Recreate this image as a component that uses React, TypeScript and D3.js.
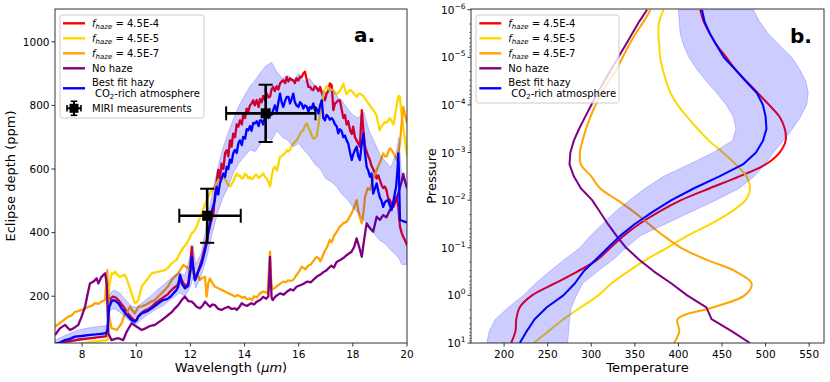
import React from 'react';
import * as d3 from 'd3';

// ---------- Panel a: eclipse depth spectra (wavelength µm, ppm) ----------
const fhaze4: [number, number][] = [
  [7.0,48],[7.3,55],[7.6,60],[7.9,64],[8.2,67],[8.5,70],[8.7,72],[8.88,74],[8.94,90],[9.0,180],[9.08,195],[9.15,199],[9.25,195],[9.34,188],[9.46,175],[9.55,165],[9.65,150],[9.75,140],[9.83,132],[9.92,125],[10.0,124],[10.08,138],[10.2,148],[10.32,155],[10.45,160],[10.57,167],[10.7,178],[10.82,185],[10.95,193],[11.06,200],[11.15,205],[11.25,215],[11.37,225],[11.49,232],[11.55,240],[11.62,265],[11.68,251],[11.8,232],[11.92,240],[12.0,300],[12.05,356],[12.1,300],[12.17,251],[12.29,280],[12.42,314],[12.54,356],[12.66,398],[12.78,440],[12.85,460],
  [12.91,520],[12.97,560],[13.03,597],[13.09,570],[13.15,617],[13.22,600],[13.28,650],[13.34,659],[13.4,640],[13.46,690],[13.52,670],[13.58,711],[13.65,700],[13.71,740],[13.77,733],[13.83,753],[13.9,740],[13.95,770],[14.02,760],[14.08,790],[14.14,780],[14.2,800],[14.26,806],[14.32,816],[14.38,800],[14.45,817],[14.52,795],[14.57,820],[14.63,810],[14.69,830],[14.76,815],[14.82,837],[14.88,825],[14.94,827],[15.0,850],[15.06,858],[15.12,845],[15.19,860],[15.25,850],[15.31,869],[15.37,875],[15.43,879],[15.5,870],[15.56,889],[15.62,875],[15.68,885],[15.74,880],[15.8,879],[15.86,870],[15.92,885],[15.99,878],[16.05,890],[16.11,889],[16.17,900],[16.23,906],[16.3,880],[16.36,858],[16.42,858],[16.48,850],[16.54,848],[16.6,860],[16.66,855],[16.73,845],[16.79,858],[16.85,840],[16.91,825],[16.97,816],[17.03,837],[17.09,845],[17.15,869],[17.22,863],[17.28,785],[17.34,806],[17.4,810],[17.46,816],[17.52,816],[17.58,790],[17.65,760],[17.71,770],[17.77,740],[17.83,750],[17.9,720],[17.96,710],[18.01,733],[18.08,700],[18.14,690],[18.2,680],[18.26,670],[18.33,785],[18.39,720],[18.45,670],[18.51,655],[18.57,640],[18.63,628],[18.69,610],[18.75,600],[18.82,586],[18.88,570],[18.94,580],[19.0,565],[19.06,550],[19.12,540],[19.18,545],[19.24,534],[19.3,510],[19.37,502],[19.43,490],[19.5,481],[19.56,500],[19.62,513],[19.68,480],[19.74,419],[19.8,400],[19.86,387],[19.93,375],[20.0,360]
];

const fhaze5: [number, number][] = [
  [7.0,40],[7.3,43],[7.6,47],[7.9,50],[8.2,54],[8.5,58],[8.7,60],[8.9,62],[8.96,64],[9.0,230],[9.09,272],[9.15,270],[9.22,277],[9.3,268],[9.4,261],[9.5,265],[9.58,267],[9.65,255],[9.71,240],[9.77,225],[9.83,209],[9.9,190],[9.95,178],[10.02,182],[10.08,188],[10.14,210],[10.2,230],[10.3,242],[10.39,251],[10.48,262],[10.57,272],[10.7,275],[10.82,277],[10.94,280],[11.06,282],[11.18,290],[11.31,303],[11.4,310],[11.49,314],[11.58,330],[11.68,345],[11.75,355],[11.8,358],[11.92,375],[12.05,398],[12.15,405],[12.23,419],[12.32,440],[12.42,460],[12.5,480],[12.6,502],[12.7,520],[12.78,534],[12.9,545],[13.03,565],[13.1,560],[13.15,568],[13.22,576],[13.3,565],[13.34,560],[13.4,550],[13.46,545],[13.52,552],[13.58,560],[13.65,575],[13.71,586],[13.77,578],[13.83,580],[13.9,570],[13.95,572],[14.02,585],[14.08,580],[14.14,570],[14.2,576],[14.26,568],[14.32,570],[14.38,580],[14.45,582],[14.52,572],[14.57,575],[14.63,580],[14.69,586],[14.76,575],[14.82,570],[14.88,560],[14.94,545],[15.0,575],[15.06,600],[15.12,607],[15.2,595],[15.25,615],[15.31,638],[15.37,640],[15.43,645],[15.5,650],[15.56,659],[15.62,655],[15.68,660],[15.74,672],[15.8,680],[15.86,685],[15.92,690],[15.99,700],[16.05,711],[16.11,718],[16.17,722],[16.23,735],[16.3,743],[16.36,730],[16.42,720],[16.48,705],[16.54,695],[16.6,698],[16.66,701],[16.73,740],[16.79,774],[16.85,790],[16.91,837],[16.97,850],[17.03,860],[17.09,855],[17.15,845],[17.22,850],[17.28,848],[17.34,840],[17.4,835],[17.46,840],[17.52,845],[17.58,855],[17.65,868],[17.71,850],[17.77,835],[17.83,842],[17.9,848],[17.96,845],[18.01,840],[18.08,832],[18.14,827],[18.2,835],[18.26,837],[18.33,833],[18.38,830],[18.45,822],[18.5,815],[18.56,808],[18.62,800],[18.69,792],[18.75,785],[18.81,778],[18.87,770],[18.93,745],[18.99,722],[19.06,735],[19.12,740],[19.18,748],[19.24,745],[19.3,752],[19.37,760],[19.43,750],[19.5,740],[19.55,765],[19.6,790],[19.65,815],[19.7,830],[19.74,827],[19.8,770],[19.86,733],[19.93,690],[20.0,640]
];

const fhaze7: [number, number][] = [
  [7.0,104],[7.12,112],[7.25,120],[7.37,128],[7.49,136],[7.62,140],[7.74,151],[7.86,153],[7.98,157],[8.1,160],[8.23,167],[8.35,170],[8.48,178],[8.6,176],[8.72,183],[8.85,188],[8.9,250],[8.93,282],[8.97,200],[9.0,136],[9.09,99],[9.18,97],[9.28,94],[9.37,104],[9.46,115],[9.52,130],[9.58,146],[9.67,150],[9.77,167],[9.86,155],[9.95,146],[10.08,167],[10.2,168],[10.32,172],[10.45,178],[10.57,184],[10.69,188],[10.82,200],[10.94,210],[11.06,220],[11.18,232],[11.31,251],[11.43,262],[11.55,272],[11.62,282],[11.74,298],[11.85,292],[11.92,288],[12.05,282],[12.17,261],[12.28,265],[12.35,251],[12.45,258],[12.54,261],[12.6,199],[12.66,240],[12.72,256],[12.82,240],[12.91,230],[13.03,225],[13.15,220],[13.28,215],[13.4,209],[13.52,205],[13.65,199],[13.75,204],[13.83,200],[13.92,195],[14.0,198],[14.1,190],[14.2,193],[14.28,188],[14.35,200],[14.45,196],[14.57,209],[14.7,215],[14.85,210],[14.91,290],[14.94,340],[14.97,270],[15.01,222],[15.1,225],[15.2,232],[15.3,238],[15.43,246],[15.52,244],[15.6,250],[15.7,248],[15.8,251],[15.88,262],[15.95,270],[16.03,280],[16.11,293],[16.2,288],[16.25,285],[16.35,296],[16.45,300],[16.55,312],[16.66,324],[16.75,318],[16.8,310],[16.88,325],[16.95,340],[17.05,355],[17.15,377],[17.22,370],[17.3,390],[17.4,402],[17.52,419],[17.6,425],[17.65,430],[17.77,434],[17.85,445],[17.95,460],[18.05,480],[18.14,502],[18.2,470],[18.25,450],[18.33,429],[18.4,470],[18.45,513],[18.55,540],[18.63,534],[18.7,555],[18.75,570],[18.82,585],[18.88,597],[18.94,610],[19.0,620],[19.06,635],[19.12,649],[19.18,640],[19.25,640],[19.31,655],[19.37,665],[19.43,660],[19.5,650],[19.56,640],[19.62,628],[19.68,650],[19.74,681],[19.8,740],[19.86,795],[19.93,770],[20.0,743]
];

const noHaze: [number, number][] = [
  [7.0,78],[7.18,99],[7.37,110],[7.55,94],[7.68,99],[7.86,110],[7.98,135],[8.11,167],[8.2,205],[8.29,240],[8.42,246],[8.54,256],[8.6,240],[8.72,261],[8.85,272],[8.91,240],[8.97,83],[9.09,62],[9.22,66],[9.34,68],[9.52,62],[9.65,89],[9.83,115],[10.02,104],[10.2,94],[10.32,98],[10.45,104],[10.57,108],[10.69,110],[10.82,118],[10.94,125],[11.06,133],[11.18,141],[11.31,150],[11.43,162],[11.55,172],[11.68,188],[11.8,199],[11.92,185],[12.05,183],[12.15,175],[12.23,167],[12.35,162],[12.45,170],[12.54,183],[12.63,175],[12.72,167],[12.82,174],[12.91,172],[13.03,160],[13.15,157],[13.28,163],[13.4,167],[13.52,160],[13.65,162],[13.71,157],[13.8,165],[13.9,178],[14.0,172],[14.1,170],[14.25,178],[14.35,174],[14.45,183],[14.6,190],[14.69,198],[14.8,192],[14.88,200],[14.92,280],[14.94,324],[14.97,250],[15.0,195],[15.04,188],[15.15,200],[15.31,209],[15.45,205],[15.56,214],[15.7,222],[15.8,218],[15.92,230],[16.1,236],[16.2,240],[16.3,246],[16.45,244],[16.55,252],[16.66,261],[16.8,268],[16.9,275],[17.03,282],[17.2,296],[17.3,290],[17.4,308],[17.55,315],[17.65,320],[17.77,329],[17.87,335],[17.95,340],[18.05,355],[18.14,382],[18.25,350],[18.33,324],[18.42,380],[18.51,429],[18.62,415],[18.75,403],[18.88,450],[19.0,440],[19.12,455],[19.24,448],[19.37,471],[19.5,485],[19.6,502],[19.7,530],[19.8,560],[19.86,585],[19.93,560],[20.0,540]
];

const bestFit: [number, number][] = [
  [7.0,50],[7.2,55],[7.37,62],[7.55,66],[7.74,73],[7.98,75],[8.23,78],[8.5,80],[8.7,82],[8.88,84],[8.94,95],[9.0,165],[9.08,182],[9.15,188],[9.25,184],[9.34,178],[9.46,162],[9.55,152],[9.65,141],[9.75,132],[9.83,125],[9.95,120],[10.02,126],[10.08,136],[10.2,146],[10.32,150],[10.39,152],[10.5,158],[10.57,162],[10.7,170],[10.82,178],[10.92,184],[11.0,188],[11.1,190],[11.18,193],[11.28,200],[11.37,209],[11.49,220],[11.55,230],[11.62,267],[11.68,240],[11.8,225],[11.92,232],[12.0,280],[12.05,324],[12.1,290],[12.17,251],[12.29,277],[12.42,303],[12.5,330],[12.6,366],[12.66,400],[12.72,429],[12.8,470],[12.9,502],[12.97,544],[13.03,520],[13.09,555],[13.15,570],[13.22,586],[13.28,575],[13.34,607],[13.4,600],[13.46,630],[13.52,620],[13.58,649],[13.65,660],[13.71,650],[13.77,680],[13.83,690],[13.9,675],[13.95,701],[14.02,695],[14.08,725],[14.14,722],[14.2,735],[14.26,720],[14.32,745],[14.38,743],[14.45,750],[14.52,735],[14.57,753],[14.63,753],[14.69,740],[14.76,765],[14.82,774],[14.88,760],[14.94,775],[15.0,770],[15.06,785],[15.12,800],[15.19,780],[15.25,810],[15.31,837],[15.37,810],[15.43,795],[15.5,815],[15.56,827],[15.62,827],[15.68,806],[15.74,820],[15.8,837],[15.86,810],[15.92,800],[15.99,795],[16.05,810],[16.11,805],[16.17,790],[16.23,800],[16.3,796],[16.36,780],[16.42,795],[16.48,790],[16.54,806],[16.6,785],[16.66,790],[16.73,774],[16.79,800],[16.85,816],[16.91,760],[16.97,753],[17.03,770],[17.09,765],[17.15,755],[17.22,760],[17.28,753],[17.34,740],[17.4,735],[17.46,712],[17.52,725],[17.58,720],[17.65,700],[17.71,705],[17.77,690],[17.83,680],[17.9,650],[17.96,628],[18.01,645],[18.08,660],[18.14,670],[18.2,640],[18.26,628],[18.33,680],[18.39,712],[18.45,650],[18.51,607],[18.57,595],[18.63,576],[18.69,586],[18.75,523],[18.82,540],[18.88,555],[18.94,530],[19.0,510],[19.06,500],[19.12,481],[19.18,495],[19.24,500],[19.3,502],[19.37,485],[19.43,471],[19.5,500],[19.55,523],[19.6,545],[19.65,600],[19.68,649],[19.7,600],[19.72,520],[19.74,440],[19.8,438],[19.86,436],[19.93,434],[20.0,432]
];

// [wavelength, lower, upper] of the shaded best-fit range
const bestFitRange: [number, number, number][] = [
  [7.0,45,62],[7.4,52,78],[7.8,60,92],[8.2,66,100],[8.6,70,105],[8.93,74,108],[9.0,150,200],[9.1,160,215],[9.2,160,220],[9.4,150,210],[9.6,135,190],[9.8,118,170],[10.0,112,165],[10.2,128,178],[10.4,140,192],[10.6,152,205],[10.8,162,222],[11.0,170,235],[11.2,185,250],[11.4,198,265],[11.6,210,275],[11.8,200,265],[12.0,230,330],[12.1,260,360],[12.2,225,300],[12.4,265,335],[12.6,320,425],[12.8,395,520],[13.0,460,600],[13.2,510,665],[13.4,545,715],[13.6,590,760],[13.8,620,800],[14.0,640,830],[14.2,660,860],[14.4,655,880],[14.6,680,905],[14.8,700,925],[15.0,690,935],[15.2,720,905],[15.4,700,885],[15.6,690,895],[15.8,670,880],[16.0,680,900],[16.2,660,875],[16.4,640,885],[16.6,615,862],[16.8,600,850],[17.0,570,840],[17.2,560,860],[17.4,545,830],[17.6,520,815],[17.8,505,790],[18.0,480,770],[18.2,460,760],[18.4,440,780],[18.6,420,720],[18.8,395,685],[19.0,375,645],[19.2,365,625],[19.4,345,605],[19.6,330,650],[19.7,320,700],[19.8,300,580],[20.0,300,560]
];

// MIRI measurements
const miriWl = [12.62, 14.78];
const miriWlLow = [11.59, 13.32];
const miriWlHigh = [13.86, 16.62];
const miriDepth = [453, 775];
const miriDepthErr = [85, 90];

const xTicksA = [8, 10, 12, 14, 16, 18, 20];
const yTicksA = [200, 400, 600, 800, 1000];

// ---------- Panel b: temperature-pressure profiles ----------
const pressureExp = [-6,-5.75,-5.5,-5.25,-5,-4.75,-4.5,-4.25,-4,-3.75,-3.5,-3.25,-3,-2.75,-2.5,-2.25,-2,-1.75,-1.5,-1.25,-1,-0.75,-0.5,-0.25,0,0.25,0.5,0.75,1];
const tHaze4 = [425,429,436,444,455,465,478,491,504,516,522,523,516,500,470,436,403,377,355,337,322,307,284,258,232,218,214,213,208];
const tHaze5 = [383,378,377,378,379,382,386,391,399,410,422,435,451,466,478,482,477,460,437,410,387,363,342,323,308,288,268,251,234];
const tHaze7 = [368,360,351,343,336,329,320,312,305,299,294,290,287,288,300,310,330,349,366,383,403,432,466,484,476,440,399,401,395];
const tNoHaze = [364,355,347,339,331,323,315,307,300,293,286,280,276,275,280,288,301,310,319,329,340,355,372,392,410,432,438,461,482];
const tBestFit = [427,430,436,444,452,465,477,490,497,500,501,497,489,474,447,418,392,370,350,333,319,305,291,281,268,249,235,226,218];
const tBestFitLow = [400,401,402,406,412,421,432,444,455,463,466,462,440,412,383,362,344,327,313,299,287,269,252,236,222,205,190,183,180];
const tBestFitHigh = [486,493,503,516,530,539,546,549,547,540,531,520,509,499,487,470,443,414,385,356,340,325,307,290,283,277,275,274,273];

const xTicksB = [200, 250, 300, 350, 400, 450, 500, 550];
const yTickExpB = [-6, -5, -4, -3, -2, -1, 0, 1];

const FONT = "'DejaVu Sans', Verdana, sans-serif";
const C = { red: '#ff0000', gold: '#ffd700', orange: '#ffa500', purple: '#800080', blue: '#0000ff' };

function HazeLabel({ x, y, val }: { x: number; y: number; val: string }) {
  return (
    <text x={x} y={y} fontSize={10} fontFamily={FONT} style={{ whiteSpace: 'pre' }}>
      <tspan fontStyle="italic">f</tspan>
      <tspan fontStyle="italic" fontSize={7} dy={2.2}>haze</tspan>
      <tspan dy={-2.2}>{' = ' + val}</tspan>
    </text>
  );
}

function Legend({ bx, by, bw, bh, lx, tx, miri }: { bx: number; by: number; bw: number; bh: number; lx: number; tx: number; miri: boolean }) {
  const rows = [
    { c: C.red, v: '4.5E-4', y: 23.3 },
    { c: C.gold, v: '4.5E-5', y: 38.3 },
    { c: C.orange, v: '4.5E-7', y: 53.3 },
  ];
  const ll = 22;
  return (
    <g>
      <rect x={bx} y={by} width={bw} height={bh} rx={2.5} fill="white" fillOpacity={0.8} stroke="#cccccc" strokeWidth={1} />
      {rows.map((r, i) => (
        <g key={i}>
          <line x1={lx} x2={lx + ll} y1={r.y} y2={r.y} stroke={r.c} strokeWidth={2.4} />
          <HazeLabel x={tx} y={r.y + 3.6} val={r.v} />
        </g>
      ))}
      <line x1={lx} x2={lx + ll} y1={68.3} y2={68.3} stroke={C.purple} strokeWidth={2.4} />
      <text x={tx} y={71.9} fontSize={10} fontFamily={FONT}>No haze</text>
      <line x1={lx} x2={lx + ll} y1={88.3} y2={88.3} stroke={C.blue} strokeWidth={2.4} />
      <text x={tx} y={85.9} fontSize={10} fontFamily={FONT}>Best fit hazy</text>
      <text x={tx + 3} y={96.9} fontSize={10} fontFamily={FONT}>
        <tspan>CO</tspan>
        <tspan fontSize={7} dy={2.2}>2</tspan>
        <tspan dy={-2.2}>-rich atmosphere</tspan>
      </text>
      {miri && (
        <g>
          <line x1={lx + 4} x2={lx + 18} y1={108.3} y2={108.3} stroke="black" strokeWidth={2} />
          <line x1={lx + 11} x2={lx + 11} y1={101.3} y2={115.3} stroke="black" strokeWidth={2} />
          <line x1={lx + 4} x2={lx + 4} y1={105} y2={111.6} stroke="black" strokeWidth={1.6} />
          <line x1={lx + 18} x2={lx + 18} y1={105} y2={111.6} stroke="black" strokeWidth={1.6} />
          <line x1={lx + 7.7} x2={lx + 14.3} y1={101.3} y2={101.3} stroke="black" strokeWidth={1.6} />
          <line x1={lx + 7.7} x2={lx + 14.3} y1={115.3} y2={115.3} stroke="black" strokeWidth={1.6} />
          <rect x={lx + 6.5} y={103.8} width={9} height={9} fill="black" />
          <text x={tx} y={111.9} fontSize={10} fontFamily={FONT}>MIRI measurements</text>
        </g>
      )}
    </g>
  );
}

export default function App() {
  // panel a geometry
  const A = { x0: 55, x1: 407, y0: 9, y1: 343 };
  const B = { x0: 471, x1: 824, y0: 9, y1: 343 };

  const xA = d3.scaleLinear().domain([7, 20]).range([A.x0, A.x1]);
  const yA = d3.scaleLinear().domain([53, 1103]).range([A.y1, A.y0]);
  const xB = d3.scaleLinear().domain([162, 567]).range([B.x0, B.x1]);
  const yB = d3.scaleLog().domain([1e-6, 10]).range([9.7, B.y1]);

  const lineA = d3.line<[number, number]>().x(d => xA(d[0])).y(d => yA(d[1]));
  const areaA = d3.area<[number, number, number]>().x(d => xA(d[0])).y0(d => yA(d[1])).y1(d => yA(d[2]));

  const prof = (t: number[]) => pressureExp.map((e, i) => [t[i], Math.pow(10, e)] as [number, number]);
  const lineBsmooth = d3.line<[number, number]>().x(d => xB(d[0])).y(d => yB(d[1])).curve(d3.curveCatmullRom.alpha(0.5));
  const lineBlin = d3.line<[number, number]>().x(d => xB(d[0])).y(d => yB(d[1]));
  const bandRows = pressureExp.map((e, i) => ({ p: Math.pow(10, e), lo: tBestFitLow[i], hi: tBestFitHigh[i] }));
  const areaB = d3.area<{ p: number; lo: number; hi: number }>().y(d => yB(d.p)).x0(d => xB(d.lo)).x1(d => xB(d.hi));

  const minorB: number[] = [];
  for (let e = -6; e < 1; e++) for (let k = 2; k <= 9; k++) minorB.push(k * Math.pow(10, e));

  const spine = '#333';
  const lwA = 2.3;
  const lwB = 2.0;

  return (
    <svg width={830} height={382} viewBox="0 0 830 382" style={{ position: 'absolute', left: 0, top: 0, background: 'white' }} fontFamily={FONT}>
      <defs>
        <clipPath id="clipA"><rect x={A.x0} y={A.y0} width={A.x1 - A.x0} height={A.y1 - A.y0} /></clipPath>
        <clipPath id="clipB"><rect x={B.x0} y={B.y0} width={B.x1 - B.x0} height={B.y1 - B.y0} /></clipPath>
      </defs>
      <rect x={0} y={0} width={830} height={382} fill="white" />

      {/* ---------- Panel a ---------- */}
      <g clipPath="url(#clipA)" fill="none" strokeLinejoin="round">
        <path d={lineA(fhaze4) || ''} stroke={C.red} strokeWidth={lwA} />
        <path d={lineA(fhaze5) || ''} stroke={C.gold} strokeWidth={lwA} />
        <path d={lineA(fhaze7) || ''} stroke={C.orange} strokeWidth={lwA} />
        <path d={lineA(noHaze) || ''} stroke={C.purple} strokeWidth={lwA} />
        <path d={areaA(bestFitRange) || ''} fill={C.blue} fillOpacity={0.2} stroke={C.blue} strokeOpacity={0.2} strokeWidth={1} />
        <path d={lineA(bestFit) || ''} stroke={C.blue} strokeWidth={lwA} />
      </g>
      {/* MIRI error bars */}
      <g stroke="black">
        {miriWl.map((w, i) => {
          const cx = xA(w), cy = yA(miriDepth[i]);
          const xl = xA(miriWlLow[i]), xh = xA(miriWlHigh[i]);
          const yt = yA(miriDepth[i] + miriDepthErr[i]), yb = yA(miriDepth[i] - miriDepthErr[i]);
          return (
            <g key={i}>
              <line x1={xl} x2={xh} y1={cy} y2={cy} strokeWidth={2.6} />
              <line x1={cx} x2={cx} y1={yt} y2={yb} strokeWidth={2.6} />
              <line x1={xl} x2={xl} y1={cy - 7} y2={cy + 7} strokeWidth={2} />
              <line x1={xh} x2={xh} y1={cy - 7} y2={cy + 7} strokeWidth={2} />
              <line x1={cx - 7} x2={cx + 7} y1={yt} y2={yt} strokeWidth={2} />
              <line x1={cx - 7} x2={cx + 7} y1={yb} y2={yb} strokeWidth={2} />
              <rect x={cx - 5} y={cy - 5} width={10} height={10} fill="black" stroke="none" />
            </g>
          );
        })}
      </g>
      {/* axes a */}
      <rect x={A.x0} y={A.y0} width={A.x1 - A.x0} height={A.y1 - A.y0} fill="none" stroke={spine} strokeWidth={1} />
      {xTicksA.map(t => (
        <g key={'xa' + t}>
          <line x1={xA(t)} x2={xA(t)} y1={A.y1} y2={A.y1 + 3.5} stroke={spine} strokeWidth={1} />
          <text x={xA(t)} y={358} fontSize={10.5} textAnchor="middle" fill="black">{t}</text>
        </g>
      ))}
      {yTicksA.map(t => (
        <g key={'ya' + t}>
          <line x1={A.x0 - 3.5} x2={A.x0} y1={yA(t)} y2={yA(t)} stroke={spine} strokeWidth={1} />
          <text x={A.x0 - 5.5} y={yA(t) + 3.8} fontSize={10.5} textAnchor="end" fill="black">{t}</text>
        </g>
      ))}
      <text x={(A.x0 + A.x1) / 2} y={372} fontSize={13} textAnchor="middle" fill="black">
        <tspan>Wavelength (</tspan><tspan fontStyle="italic">μm</tspan><tspan>)</tspan>
      </text>
      <text transform={`translate(15,${(A.y0 + A.y1) / 2}) rotate(-90)`} fontSize={13} textAnchor="middle" fill="black">Eclipse depth (ppm)</text>
      <text x={354} y={42} fontSize={20} fontWeight="bold" fill="black">a.</text>
      <Legend bx={60} by={15} bw={144} bh={103} lx={63} tx={92} miri={true} />

      {/* ---------- Panel b ---------- */}
      <g clipPath="url(#clipB)" fill="none" strokeLinejoin="round">
        <path d={lineBsmooth(prof(tHaze4)) || ''} stroke={C.red} strokeWidth={lwB} />
        <path d={lineBsmooth(prof(tHaze5)) || ''} stroke={C.gold} strokeWidth={lwB} />
        <path d={lineBsmooth(prof(tHaze7)) || ''} stroke={C.orange} strokeWidth={lwB} />
        <path d={lineBlin(prof(tNoHaze)) || ''} stroke={C.purple} strokeWidth={lwB} />
        <path d={areaB(bandRows) || ''} fill={C.blue} fillOpacity={0.2} stroke={C.blue} strokeOpacity={0.2} strokeWidth={1} />
        <path d={lineBlin(prof(tBestFit)) || ''} stroke={C.blue} strokeWidth={lwB} />
      </g>
      <rect x={B.x0} y={B.y0} width={B.x1 - B.x0} height={B.y1 - B.y0} fill="none" stroke={spine} strokeWidth={1} />
      {xTicksB.map(t => (
        <g key={'xb' + t}>
          <line x1={xB(t)} x2={xB(t)} y1={B.y1} y2={B.y1 + 3.5} stroke={spine} strokeWidth={1} />
          <text x={xB(t)} y={358} fontSize={10.5} textAnchor="middle" fill="black">{t}</text>
        </g>
      ))}
      {minorB.map((p, i) => (
        <line key={'mb' + i} x1={B.x0 - 2} x2={B.x0} y1={yB(p)} y2={yB(p)} stroke={spine} strokeWidth={0.6} />
      ))}
      {yTickExpB.map(e => (
        <g key={'yb' + e}>
          <line x1={B.x0 - 3.5} x2={B.x0} y1={yB(Math.pow(10, e))} y2={yB(Math.pow(10, e))} stroke={spine} strokeWidth={1} />
          <text x={B.x0 - 5.5} y={yB(Math.pow(10, e)) + 4} fontSize={10.5} textAnchor="end" fill="black">
            <tspan>10</tspan>
            <tspan fontSize={7.5} dy={-5}>{e < 0 ? '\u2212' + Math.abs(e) : String(e)}</tspan>
          </text>
        </g>
      ))}
      <text x={(B.x0 + B.x1) / 2} y={372} fontSize={13} textAnchor="middle" fill="black">Temperature</text>
      <text transform={`translate(435.5,${(B.y0 + B.y1) / 2}) rotate(-90)`} fontSize={13} textAnchor="middle" fill="black">Pressure</text>
      <text x={790} y={43} fontSize={20} fontWeight="bold" fill="black">b.</text>
      <Legend bx={476} by={15} bw={143} bh={88} lx={479.3} tx={508.3} miri={false} />
    </svg>
  );
}
